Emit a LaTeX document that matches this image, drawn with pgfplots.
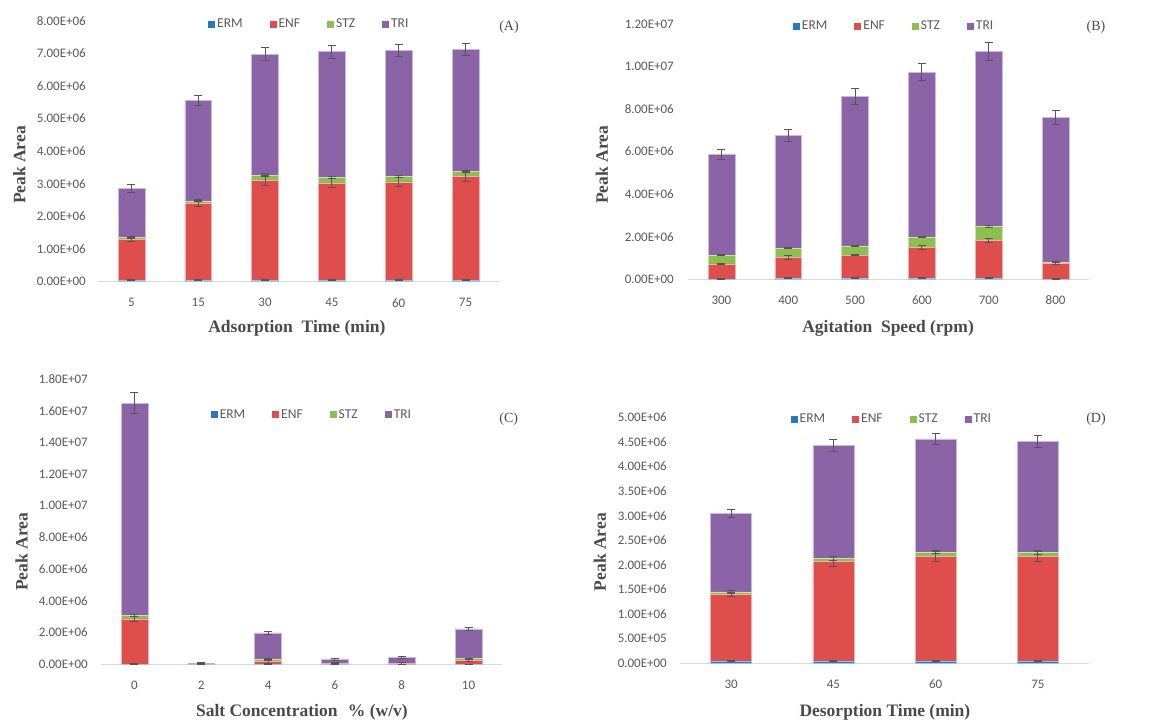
\documentclass[border=0pt]{standalone}
\usepackage{fontspec}
\setmainfont{Liberation Serif}
\newfontfamily\calfont{Carlito}
\usepackage{pgfplots}
\usepackage{pgfplotstable}
\pgfplotsset{compat=1.18}

\definecolor{ermc}{HTML}{2878BE}
\definecolor{enfc}{HTML}{DD4E4C}
\definecolor{stzc}{HTML}{8CBF4F}
\definecolor{tric}{HTML}{8A64A6}
\definecolor{tickg}{HTML}{595959}
\definecolor{labg}{HTML}{4A4A4A}
\definecolor{axg}{HTML}{D9D9D9}
\definecolor{errg}{HTML}{555555}

\pgfplotstableread{
x ERM ENF STZ TRI eERM eENF eSTZ eTRI
0 40000 1260000 70000 1490000 15000 60000 30000 110000
1 40000 2360000 80000 3080000 15000 100000 30000 160000
2 40000 3070000 160000 3700000 15000 150000 40000 200000
3 40000 2990000 160000 3860000 15000 150000 30000 200000
4 40000 3020000 170000 3860000 15000 140000 30000 190000
5 40000 3190000 150000 3740000 15000 160000 30000 190000
}\dataA

\pgfplotstableread{
x ERM ENF STZ TRI eERM eENF eSTZ eTRI
0 20000 700000 420000 4720000 15000 40000 30000 240000
1 60000 970000 430000 5310000 15000 80000 30000 280000
2 70000 1070000 430000 7020000 15000 40000 30000 370000
3 70000 1430000 490000 7740000 15000 80000 30000 400000
4 70000 1750000 660000 8220000 15000 100000 40000 420000
5 20000 720000 60000 6820000 15000 50000 40000 340000
}\dataB

\pgfplotstableread{
x ERM ENF STZ TRI eERM eENF eSTZ eTRI
0 20000 2840000 230000 13390000 20000 150000 60000 660000
1 5000 15000 10000 50000 10000 10000 10000 30000
2 10000 155000 175000 1640000 10000 100000 60000 80000
3 10000 70000 10000 200000 10000 40000 10000 50000
4 10000 50000 10000 370000 10000 40000 10000 50000
5 10000 240000 110000 1870000 10000 80000 40000 80000
}\dataC

\pgfplotstableread{
x ERM ENF STZ TRI eERM eENF eSTZ eTRI
0 50000 1350000 50000 1590000 10000 50000 30000 80000
1 50000 2020000 60000 2300000 10000 100000 40000 115000
2 50000 2120000 90000 2300000 10000 100000 30000 110000
3 50000 2120000 90000 2250000 10000 100000 40000 120000
}\dataD

\pgfplotsset{
  excel/.style={
    scale only axis,
    ybar stacked,
    bar width=0.4,
    ymin=0, xmin=-0.5,
    scaled y ticks=false,
    axis x line=bottom, axis y line=left,
    x axis line style={draw=axg, line width=1pt, -},
    y axis line style={draw=none},
    major tick length=0pt,
    tick style={draw=none},
    tick label style={font=\calfont\fontsize{13}{15}\selectfont, text=tickg},
    yticklabel style={anchor=east, inner sep=0pt, xshift=-12pt},
    xticklabel style={anchor=center, inner sep=0pt, yshift=-21pt},
    label style={font=\bfseries\fontsize{17.5}{20}\selectfont, text=labg},
    xlabel style={anchor=center},
    ylabel style={anchor=center},
    legend columns=4,
    legend style={draw=none, fill=none, font=\calfont\fontsize{13.5}{15}\selectfont,
      text=tickg, anchor=center,
      /tikz/every even column/.append style={column sep=25pt}},
    legend image code/.code={\path[#1, draw=none] (0pt,-3.5pt) rectangle (7pt,3.5pt);},
    error bars/y dir=both, error bars/y explicit,
    error bars/error bar style={draw=errg, line width=0.9pt},
    error bars/error mark options={rotate=90, mark size=4pt, draw=errg, line width=0.9pt},
    clip=false,
  },
  sERM/.style={fill=ermc, draw=ermc!45!white, line width=0.5pt},
  sENF/.style={fill=enfc, draw=enfc!45!white, line width=0.5pt},
  sSTZ/.style={fill=stzc, draw=stzc!45!white, line width=0.5pt},
  sTRI/.style={fill=tric, draw=tric!45!white, line width=0.5pt},
}

\begin{document}
\begin{tikzpicture}
\path[use as bounding box] (0,0) rectangle (1171pt,-722pt);

% (A)
\begin{axis}[excel, at={(98pt,-281.7pt)}, anchor=south west,
  width=401pt, height=261pt, xmax=5.5, ymax=8000000,
  ytick={0,1000000,2000000,3000000,4000000,5000000,6000000,7000000,8000000},
  yticklabels={0.00E+00,1.00E+06,2.00E+06,3.00E+06,4.00E+06,5.00E+06,6.00E+06,7.00E+06,8.00E+06},
  xtick={0,1,2,3,4,5}, xticklabels={5,15,30,45,60,75},
  xlabel={Adsorption\hspace{0.5em}Time (min)},
  xlabel style={at={(axis description cs:0.496,-0.180)}},
  ylabel={Peak Area},
  ylabel style={at={(axis description cs:-0.196,0.447)}},
  legend style={at={(0.527,0.987)}},
]
\addplot[sERM] table[x=x,y=ERM,y error=eERM]{\dataA};
\addplot[sENF] table[x=x,y=ENF,y error=eENF]{\dataA};
\addplot[sSTZ] table[x=x,y=STZ,y error=eSTZ]{\dataA};
\addplot[sTRI] table[x=x,y=TRI,y error=eTRI]{\dataA};
\legend{ERM,ENF,STZ,TRI}
\end{axis}

% (B)
\begin{axis}[excel, at={(688pt,-279.3pt)}, anchor=south west,
  width=401pt, height=255.3pt, xmax=5.5, ymax=12000000,
  ytick={0,2000000,4000000,6000000,8000000,10000000,12000000},
  yticklabels={0.00E+00,2.00E+06,4.00E+06,6.00E+06,8.00E+06,1.00E+07,1.20E+07},
  yticklabel style={xshift=-2pt},
  xtick={0,1,2,3,4,5}, xticklabels={300,400,500,600,700,800},
  xlabel={Agitation\hspace{0.5em}Speed (rpm)},
  xlabel style={at={(axis description cs:0.499,-0.194)}},
  ylabel={Peak Area},
  ylabel style={at={(axis description cs:-0.215,0.448)}},
  legend style={at={(0.514,0.992)}},
]
\addplot[sERM] table[x=x,y=ERM,y error=eERM]{\dataB};
\addplot[sENF] table[x=x,y=ENF,y error=eENF]{\dataB};
\addplot[sSTZ] table[x=x,y=STZ,y error=eSTZ]{\dataB};
\addplot[sTRI] table[x=x,y=TRI,y error=eTRI]{\dataB};
\legend{ERM,ENF,STZ,TRI}
\end{axis}

% (C)
\begin{axis}[excel, at={(101pt,-664.3pt)}, anchor=south west,
  width=401pt, height=285.3pt, xmax=5.5, ymax=18000000,
  ytick={0,2000000,4000000,6000000,8000000,10000000,12000000,14000000,16000000,18000000},
  yticklabels={0.00E+00,2.00E+06,4.00E+06,6.00E+06,8.00E+06,1.00E+07,1.20E+07,1.40E+07,1.60E+07,1.80E+07},
  yticklabel style={xshift=-1pt},
  xtick={0,1,2,3,4,5}, xticklabels={0,2,4,6,8,10},
  xlabel={Salt Concentration\hspace{0.6em}\% (w/v)},
  xlabel style={at={(axis description cs:0.501,-0.168)}},
  ylabel={Peak Area},
  ylabel style={at={(axis description cs:-0.198,0.394)}},
  legend style={at={(0.526,0.874)}},
]
\addplot[sERM] table[x=x,y=ERM,y error=eERM]{\dataC};
\addplot[sENF] table[x=x,y=ENF,y error=eENF]{\dataC};
\addplot[sSTZ] table[x=x,y=STZ,y error=eSTZ]{\dataC};
\addplot[sTRI] table[x=x,y=TRI,y error=eTRI]{\dataC};
\legend{ERM,ENF,STZ,TRI}
\end{axis}

% (D)
\begin{axis}[excel, at={(680pt,-663.3pt)}, anchor=south west,
  width=409pt, height=246pt, xmax=3.5, ymax=5000000,
  ytick={0,500000,1000000,1500000,2000000,2500000,3000000,3500000,4000000,4500000,5000000},
  yticklabels={0.00E+00,5.00E+05,1.00E+06,1.50E+06,2.00E+06,2.50E+06,3.00E+06,3.50E+06,4.00E+06,4.50E+06,5.00E+06},
  yticklabel style={xshift=-1pt},
  xtick={0,1,2,3}, xticklabels={30,45,60,75},
  xlabel={Desorption Time (min)},
  xlabel style={at={(axis description cs:0.501,-0.199)}},
  ylabel={Peak Area},
  ylabel style={at={(axis description cs:-0.196,0.452)}},
  legend style={at={(0.518,0.993)}},
]
\addplot[sERM] table[x=x,y=ERM,y error=eERM]{\dataD};
\addplot[sENF] table[x=x,y=ENF,y error=eENF]{\dataD};
\addplot[sSTZ] table[x=x,y=STZ,y error=eSTZ]{\dataD};
\addplot[sTRI] table[x=x,y=TRI,y error=eTRI]{\dataD};
\legend{ERM,ENF,STZ,TRI}
\end{axis}

\node[font=\fontsize{14}{16}\selectfont, text=labg] at (509pt,-27pt) {(A)};
\node[font=\fontsize{14}{16}\selectfont, text=labg] at (1096pt,-27pt) {(B)};
\node[font=\fontsize{14}{16}\selectfont, text=labg] at (508.7pt,-419pt) {(C)};
\node[font=\fontsize{14}{16}\selectfont, text=labg] at (1096pt,-419pt) {(D)};
\end{tikzpicture}
\end{document}
